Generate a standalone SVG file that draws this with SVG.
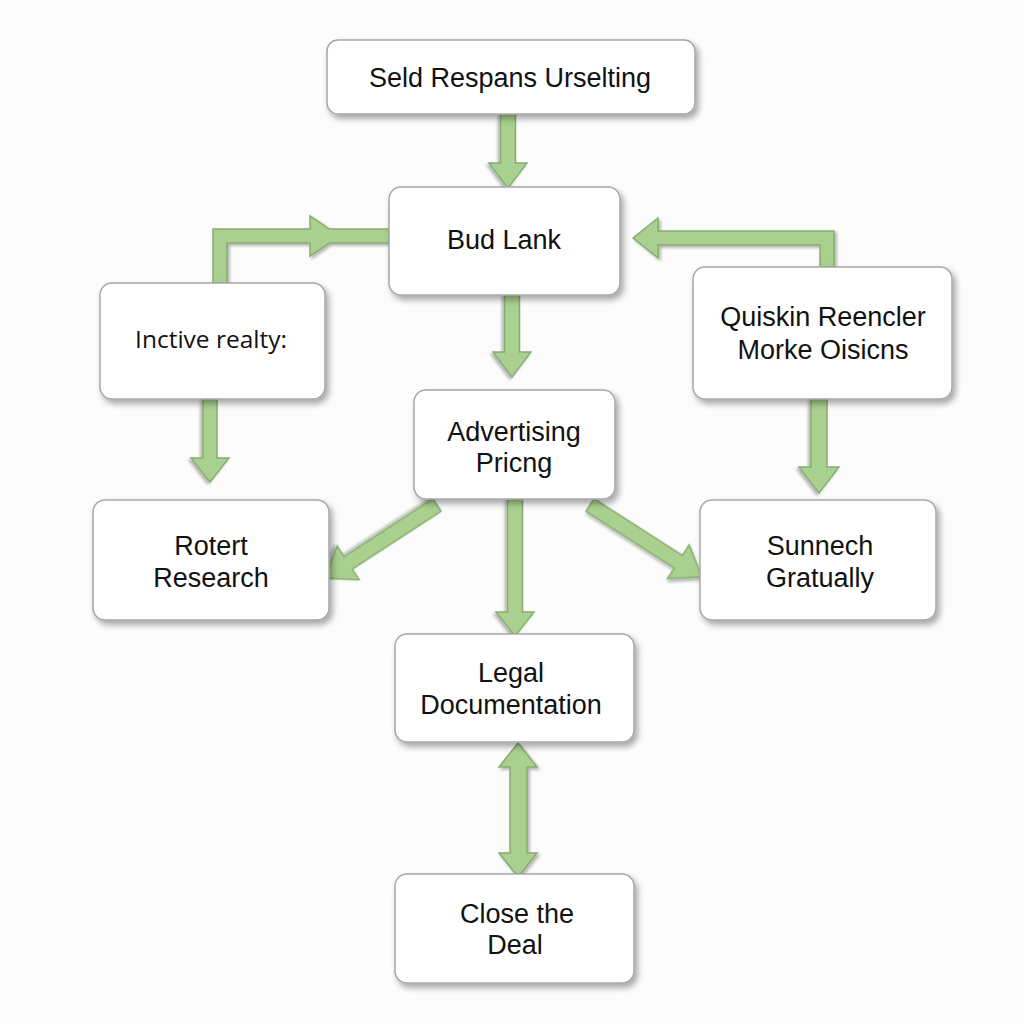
<svg xmlns="http://www.w3.org/2000/svg" width="1024" height="1024" viewBox="0 0 1024 1024">
<defs>
<filter id="sh" x="-20%" y="-20%" width="140%" height="150%">
<feGaussianBlur in="SourceAlpha" stdDeviation="3"/>
<feOffset dx="3" dy="4" result="b"/>
<feComponentTransfer><feFuncA type="linear" slope="0.35"/></feComponentTransfer>
<feMerge><feMergeNode/><feMergeNode in="SourceGraphic"/></feMerge>
</filter>
<filter id="ash" x="-20%" y="-20%" width="140%" height="140%">
<feGaussianBlur in="SourceAlpha" stdDeviation="1.5"/>
<feOffset dx="1.5" dy="2" result="b"/>
<feComponentTransfer><feFuncA type="linear" slope="0.3"/></feComponentTransfer>
<feMerge><feMergeNode/><feMergeNode in="SourceGraphic"/></feMerge>
</filter>
</defs>
<style>
.box{fill:#ffffff;stroke:#a6a6a6;stroke-width:1.5;filter:url(#sh)}
.t{font-family:"Liberation Sans",Arial,sans-serif;font-size:27px;fill:#111;text-anchor:middle}
.o{font-family:"Open Sans","Liberation Sans",sans-serif;font-size:24.5px;fill:#111;text-anchor:middle}
.arr{fill:#a9d08f;stroke:#86ad6f;stroke-width:1.5;stroke-linejoin:miter;filter:url(#ash)}
</style>
<rect width="1024" height="1024" fill="#fcfcfc"/>
<g id="connectors">
<path class="arr" transform="translate(508,114) rotate(90)" d="M0,-7.5H49V-19L74,0L49,19V7.5H0Z"/>
<path class="arr" transform="translate(512,295) rotate(90)" d="M0,-7.5H57V-19L82,0L57,19V7.5H0Z"/>
<path class="arr" transform="translate(210,399) rotate(90)" d="M0,-7H59V-19L83,0L59,19V7H0Z"/>
<path class="arr" transform="translate(819,399) rotate(90)" d="M0,-8H68V-20L94,0L68,20V8H0Z"/>
<path class="arr" transform="translate(515,499) rotate(90)" d="M0,-7.5H113V-19L137,0L113,19V7.5H0Z"/>
<path class="arr" transform="translate(437,505) rotate(146.9)" d="M0,-7.5H106V-20L134,0L106,20V7.5H0Z"/>
<path class="arr" transform="translate(590,505) rotate(32.7)" d="M0,-7.5H105V-20L133,0L105,20V7.5H0Z"/>
<polygon class="arr" points="213,283 213,229 310,229 310,216 329.5,229 389,229 389,243 329.5,243 310,256 310,243 227,243 227,283"/>
<polygon class="arr" points="834,267 834,231 658,231 658,218 633,238 658,258 658,245 820,245 820,267"/>
<polygon class="arr" points="518,743 537,767 527,767 527,853 537,853 518,877 499,853 510,853 510,767 499,767"/>
</g>
<g id="n1"><rect class="box" x="327" y="40" width="368" height="74" rx="11"/><text class="t" x="510" y="87">Seld Respans Urselting</text></g>
<g id="n2"><rect class="box" x="389" y="187" width="231" height="108" rx="12"/><text class="t" x="504" y="249">Bud Lank</text></g>
<g id="n3"><rect class="box" x="100" y="283" width="225" height="116" rx="12"/><text class="o" x="211" y="348">Inctive realty:</text></g>
<g id="n4"><rect class="box" x="693" y="267" width="259" height="132" rx="12"/><text class="t" x="823" y="326">Quiskin Reencler</text><text class="t" x="823" y="359">Morke Oisicns</text></g>
<g id="n5"><rect class="box" x="414" y="390" width="201" height="109" rx="12"/><text class="t" x="514" y="441">Advertising</text><text class="t" x="514" y="472">Pricng</text></g>
<g id="n6"><rect class="box" x="93" y="500" width="236" height="120" rx="12"/><text class="t" x="211" y="555">Rotert</text><text class="t" x="211" y="587">Research</text></g>
<g id="n7"><rect class="box" x="700" y="500" width="236" height="120" rx="12"/><text class="t" x="820" y="555">Sunnech</text><text class="t" x="820" y="587">Gratually</text></g>
<g id="n8"><rect class="box" x="395" y="634" width="239" height="108" rx="12"/><text class="t" x="511" y="682">Legal</text><text class="t" x="511" y="714">Documentation</text></g>
<g id="n9"><rect class="box" x="395" y="874" width="239" height="109" rx="12"/><text class="t" x="517" y="923">Close the</text><text class="t" x="515" y="954">Deal</text></g>
</svg>
